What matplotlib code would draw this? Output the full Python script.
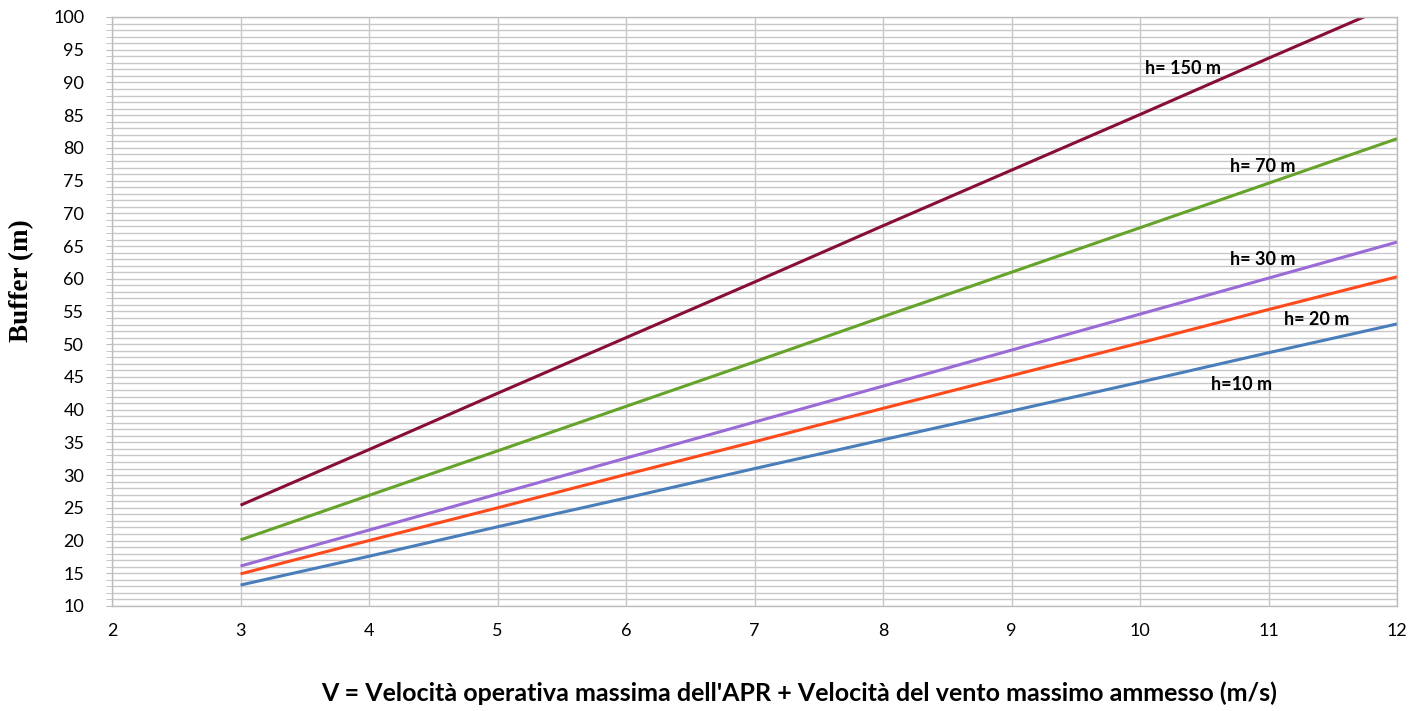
import numpy as np
import matplotlib.pyplot as plt
from matplotlib.ticker import MultipleLocator

# Dati (V in m/s, buffer in m)
velocita = [3, 4, 5, 6, 7, 8, 9, 10, 11, 12]
buffer_h10 = [13.2, 17.6, 22.1, 26.5, 31.0, 35.4, 39.8, 44.2, 48.7, 53.1]
buffer_h20 = [14.9, 20.0, 25.0, 30.1, 35.1, 40.2, 45.2, 50.2, 55.3, 60.3]
buffer_h30 = [16.1, 21.6, 27.1, 32.6, 38.1, 43.6, 49.1, 54.6, 60.1, 65.6]
buffer_h70 = [20.1, 26.9, 33.7, 40.5, 47.3, 54.2, 61.0, 67.8, 74.6, 81.4]
buffer_h150 = [25.4, 33.9, 42.5, 51.0, 59.5, 68.1, 76.6, 85.1, 93.7, 102.2]

etichette = ["h=10 m", "h= 20 m", "h= 30 m", "h= 70 m", "h= 150 m"]
pos_etichette = [(10.55, 43.9), (11.12, 53.7), (10.7, 62.9), (10.7, 77.2), (10.04, 92.2)]

colori = ["#4a7ebb", "#ff4a1c", "#9a6ad6", "#66a32a", "#870f35"]
serie = [buffer_h10, buffer_h20, buffer_h30, buffer_h70, buffer_h150]

font_tick = "Lato"

fig = plt.figure(figsize=(14.11, 7.11), dpi=100)
ax = fig.add_axes([0.0794, 0.1477, 0.9107, 0.8284])

for dati, col in zip(serie, colori):
    ax.plot(velocita, dati, color=col, linewidth=2.2, solid_capstyle="butt")

for testo, (x, y) in zip(etichette, pos_etichette):
    ax.text(x, y, testo, fontsize=13, fontweight="bold", fontfamily=font_tick,
            ha="left", va="center", color="black")

ax.set_xlim(2, 12)
ax.set_ylim(10, 100)
ax.xaxis.set_major_locator(MultipleLocator(1))
ax.yaxis.set_major_locator(MultipleLocator(5))
ax.yaxis.set_minor_locator(MultipleLocator(1))

ax.grid(True, which="major", axis="x", color="#c8c8c8", linewidth=1.0)
ax.grid(True, which="both", axis="y", color="#c8c8c8", linewidth=1.0)
ax.set_axisbelow(True)

for s in ax.spines.values():
    s.set_color("#bdbdbd")
    s.set_linewidth(1.0)

ax.tick_params(axis="y", which="both", direction="out", color="#bdbdbd", length=4, pad=16)
ax.tick_params(axis="x", which="both", length=0, pad=12)
for lab in ax.get_xticklabels() + ax.get_yticklabels():
    lab.set_fontfamily(font_tick)
    lab.set_fontsize(13)

ax.set_ylabel("Buffer (m)", fontdict={"fontsize": 19.5, "fontweight": "bold",
                                       "fontfamily": "Liberation Serif"})
ax.set_xlabel("V = Velocità operativa massima dell'APR + Velocità del vento massimo ammesso (m/s)",
              fontdict={"fontsize": 18, "fontweight": "bold", "fontfamily": font_tick})
ax.yaxis.set_label_coords(-0.061, 0.553)
ax.xaxis.set_label_coords(0.535, -0.128)

fig.savefig("out.png", dpi=100)
plt.close()
